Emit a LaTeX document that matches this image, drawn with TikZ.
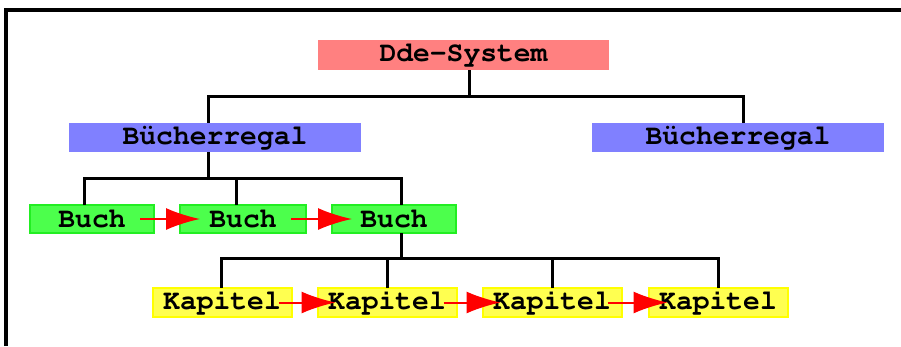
\documentclass[tikz,border=0pt]{standalone}
\usepackage[T1]{fontenc}
\usepackage{courier}
\usepackage{xcolor}
\usetikzlibrary{arrows.meta}

\definecolor{sysred}{HTML}{FF8080}
\definecolor{regalblue}{HTML}{8080FF}
\definecolor{buchgreen}{HTML}{4CFF4C}
\definecolor{buchedge}{HTML}{22EE22}
\definecolor{kapyellow}{HTML}{FFFF50}
\definecolor{kapedge}{HTML}{FFFF00}

\begin{document}
\begin{tikzpicture}[
    x=1pt, y=-1pt,
    font=\fontsize{28}{30}\selectfont\ttfamily\bfseries,
    box/.style={inner sep=0pt, outer sep=0pt, align=center},
    sysbox/.style={box, fill=sysred, minimum width=291pt, minimum height=30pt},
    regalbox/.style={box, fill=regalblue, minimum width=292pt, minimum height=29pt},
    buchbox/.style={box, fill=buchgreen, draw=buchedge, line width=2pt, minimum width=124pt, minimum height=28pt},
    kapitelbox/.style={box, fill=kapyellow, draw=kapedge, line width=2pt, minimum width=139pt, minimum height=29pt},
    link/.style={line width=3pt},
    arrow/.style={-{Latex[length=34pt, width=22pt]}, draw=red, line width=2pt}
]
\useasboundingbox (0,0) rectangle (901,346);
\draw[line width=4pt] (6,346) |- (901,10);

\node[sysbox] (dde) at (463.5,55) {Dde-System};
\node[regalbox] (reg1) at (215,137.5) {B\"ucherregal};
\node[regalbox] (reg2) at (738,137.5) {B\"ucherregal};
\node[buchbox] (b1) at (92,219) {Buch};
\node[buchbox, minimum width=126pt] (b2) at (243,219) {Buch};
\node[buchbox] (b3) at (394,219) {Buch};
\node[kapitelbox] (k1) at (222,302.5) {Kapitel};
\node[kapitelbox] (k2) at (387,302.5) {Kapitel};
\node[kapitelbox] (k3) at (552,302.5) {Kapitel};
\node[kapitelbox] (k4) at (718,302.5) {Kapitel};

% tree lines
\draw[link] ([xshift=5.5pt]dde.south) -- ++(0,26) -| ([xshift=-7pt]reg1.north);
\draw[link] ([xshift=5.5pt]dde.south) -- ++(0,26) -| ([xshift=5pt]reg2.north);
\draw[link] ([xshift=-7pt]reg1.south) -- ++(0,26) -| ([xshift=-8pt]b1.north);
\draw[link] ([xshift=-7pt]reg1.south) -- ++(0,26) -| ([xshift=-7pt]b2.north);
\draw[link] ([xshift=-7pt]reg1.south) -- ++(0,26) -| ([xshift=7pt]b3.north);
\draw[link] ([xshift=7pt]b3.south) -- ++(0,25) -| ([xshift=-1pt]k1.north);
\draw[link] ([xshift=7pt]b3.south) -- ++(0,25) -| (k2.north);
\draw[link] ([xshift=7pt]b3.south) -- ++(0,25) -| (k3.north);
\draw[link] ([xshift=7pt]b3.south) -- ++(0,25) -| (k4.north);

% sequence arrows
\draw[arrow] ([xshift=-14pt]b1.east) -- ([xshift=20pt]b2.west);
\draw[arrow] ([xshift=-15pt]b2.east) -- ([xshift=20pt]b3.west);
\draw[arrow] ([xshift=-13pt]k1.east) -- ([xshift=18pt]k2.west);
\draw[arrow] ([xshift=-13pt]k2.east) -- ([xshift=18pt]k3.west);
\draw[arrow] ([xshift=-14pt]k3.east) -- ([xshift=19pt]k4.west);
\end{tikzpicture}
\end{document}
